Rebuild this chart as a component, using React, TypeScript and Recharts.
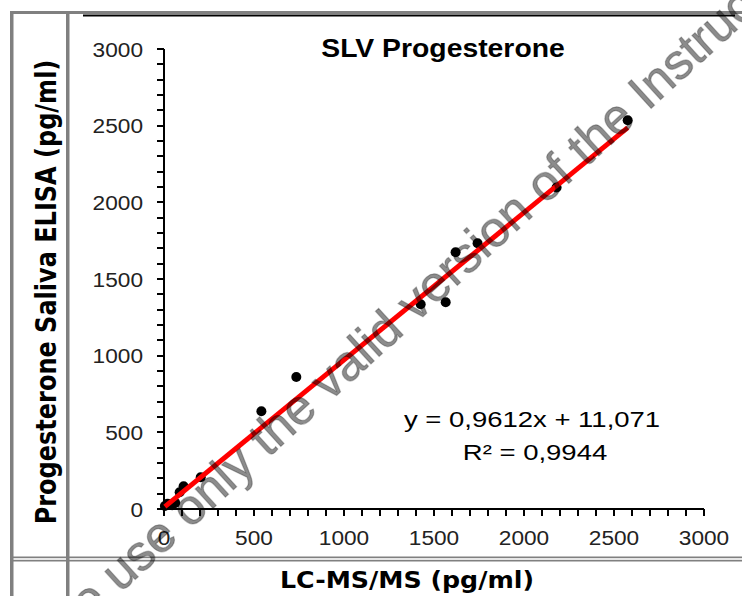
import { ScatterChart, Scatter, XAxis, YAxis } from 'recharts';

// LC-MS/MS values (x) and matching saliva ELISA values (y), pg/ml
const lcms = [5, 20, 45, 62, 87, 109, 204, 541, 735, 1426, 1565, 1620, 1742, 2181, 2576];
const elisa = [20, 35, 25, 40, 109, 148, 207, 637, 861, 1335, 1348, 1675, 1733, 2097, 2535];

// regression shown on the chart
const slope = 0.9612;
const intercept = 11.071;
const equationText = 'y = 0,9612x + 11,071';
const r2Text = 'R² = 0,9944';

const majorTicks = [0, 500, 1000, 1500, 2000, 2500, 3000];
const minorStep = 100;
const axisMax = 3000;

const title = 'SLV Progesterone';
const xTitle = 'LC-MS/MS (pg/ml)';
const yTitle = 'Progesterone Saliva ELISA (pg/ml)';
const watermark = 'Please use only the valid version of the Instructions for Use';

const points = lcms.map((x, i) => ({ x, y: elisa[i] }));
const xMin = Math.min(...lcms);
const xMax = Math.max(...lcms);
const fitLine = [
  { x: xMin, y: slope * xMin + intercept },
  { x: xMax, y: slope * xMax + intercept },
];

const allTicks = Array.from({ length: axisMax / minorStep + 1 }, (_, i) => i * minorStep);

const tickFont = '"Liberation Sans", Arial, sans-serif';
const boldFont = '"DejaVu Sans", Verdana, sans-serif';

const XTick = (props: any) => {
  const { x, y, payload } = props;
  if (!majorTicks.includes(payload.value)) return <g />;
  return (
    <text
      transform={`translate(${x},${y}) scale(1.08,1)`}
      dy="0.71em"
      textAnchor="middle"
      fontSize={21}
      fontFamily={tickFont}
      fill="#222"
    >
      {payload.value}
    </text>
  );
};

const YTick = (props: any) => {
  const { x, y, payload } = props;
  if (!majorTicks.includes(payload.value)) return <g />;
  return (
    <text
      transform={`translate(${x},${y}) scale(1.08,1)`}
      dy="0.36em"
      textAnchor="end"
      fontSize={21}
      fontFamily={tickFont}
      fill="#222"
    >
      {payload.value}
    </text>
  );
};

const Dot = (props: any) => <circle cx={props.cx} cy={props.cy} r={5} fill="#000" />;

const App = () => {
  return (
    <div style={{ position: 'absolute', left: 0, top: 0, width: 742, height: 596, background: '#fff', overflow: 'hidden' }}>
      <ScatterChart width={742} height={596} margin={{ top: 49, right: 38, left: 104, bottom: 47 }}>
        <XAxis
          type="number"
          dataKey="x"
          domain={[0, axisMax]}
          ticks={allTicks}
          interval={0}
          height={40}
          tickSize={7}
          tickMargin={14}
          axisLine={{ stroke: '#000', strokeWidth: 2 }}
          tickLine={{ stroke: '#000', strokeWidth: 2, shapeRendering: 'crispEdges' }}
          tick={<XTick />}
        />
        <YAxis
          type="number"
          dataKey="y"
          domain={[0, axisMax]}
          ticks={allTicks}
          interval={0}
          width={60}
          tickSize={7}
          tickMargin={14}
          axisLine={{ stroke: '#000', strokeWidth: 2 }}
          tickLine={{ stroke: '#000', strokeWidth: 2, shapeRendering: 'crispEdges' }}
          tick={<YTick />}
        />
        <Scatter data={points} shape={<Dot />} isAnimationActive={false} />
        <Scatter
          data={fitLine}
          line={{ stroke: '#ff0000', strokeWidth: 5 }}
          shape={() => <g />}
          isAnimationActive={false}
        />
      </ScatterChart>

      {/* table borders, titles, equation and watermark */}
      <svg width={742} height={596} style={{ position: 'absolute', left: 0, top: 0, pointerEvents: 'none' }}>
        <rect x={10} y={11} width={732} height={3} fill="#808080" />
        <rect x={10} y={11} width={3.5} height={585} fill="#808080" />
        <rect x={66} y={11} width={3.5} height={585} fill="#808080" />
        <rect x={83} y={14.5} width={652} height={2} fill="#000" />
        <rect x={10} y={556.5} width={732} height={1.7} fill="#808080" />
        <rect x={10} y={559.8} width={732} height={1.7} fill="#808080" />

        <text
          transform="translate(443,57) scale(1.09,1)"
          textAnchor="middle"
          fontSize={26}
          fontWeight="bold"
          fontFamily={tickFont}
          fill="#000"
        >
          {title}
        </text>

        <text
          transform="translate(532,426.5) scale(1.25,1)"
          textAnchor="middle"
          fontSize={22}
          fontFamily={tickFont}
          fill="#000"
        >
          {equationText}
        </text>
        <text
          transform="translate(535,460) scale(1.25,1)"
          textAnchor="middle"
          fontSize={22}
          fontFamily={tickFont}
          fill="#000"
        >
          {r2Text}
        </text>

        <text
          transform="translate(407,588) scale(1.1,1)"
          textAnchor="middle"
          fontSize={23}
          fontWeight="bold"
          fontFamily={boldFont}
          fill="#000"
        >
          {xTitle}
        </text>
        <text
          transform="translate(56,292) scale(1.15,1) rotate(-90)"
          textAnchor="middle"
          fontSize={24}
          fontWeight="bold"
          fontFamily={boldFont}
          fill="#000"
        >
          {yTitle}
        </text>

        <text
          transform="translate(-3,705.6) rotate(-42.4)"
          fontSize={50}
          fontFamily={tickFont}
          fill="#000"
          fillOpacity={0.45}
          stroke="#000"
          strokeOpacity={0.25}
          strokeWidth={1.2}
        >
          {watermark}
        </text>
      </svg>
    </div>
  );
};

export default App;
